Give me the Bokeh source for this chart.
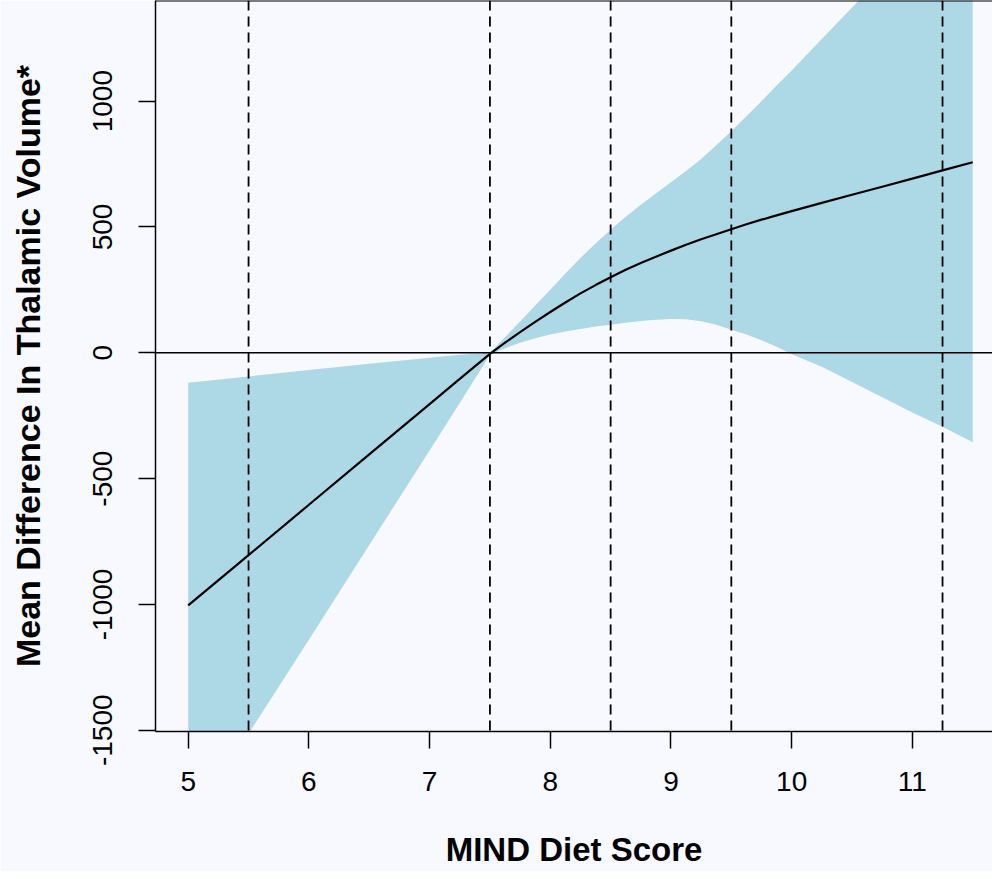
from bokeh.plotting import figure
from bokeh.models import Span, FixedTicker, Range1d
from bokeh.embed import file_html
from bokeh.resources import INLINE

# ---- data ----
mind_score = [5.0, 5.5, 6.0, 6.5, 7.0, 7.25, 7.5, 7.625, 7.75, 7.875, 8.0,
              8.125, 8.25, 8.375, 8.5, 8.625, 8.75, 8.875, 9.0, 9.125, 9.25,
              9.375, 9.5, 9.625, 9.75, 9.875, 10.0, 10.25, 10.5, 10.75, 11.0,
              11.25, 11.5]
mean_diff = [-1004, -804, -604, -404, -204, -104, -4, 40, 82, 123, 162,
             200, 236, 269, 300, 330, 357, 382, 406, 429, 451,
             471, 491, 511, 529, 546, 563, 596, 628, 660, 692,
             725, 757]
ci_lower = [-1889, -1514, -1140, -764, -388, -200, -8, 18, 40, 58, 73,
            85, 95, 104, 111, 119, 126, 131, 134, 133, 125,
            111, 92, 73, 50, 24, -6, -55, -116, -177, -237,
            -294, -356]
ci_upper = [-119, -94, -68, -44, -20, -8, 0, 62, 124, 188, 251,
            315, 377, 434, 489, 541, 588, 633, 678, 722, 770,
            825, 880, 940, 1000, 1062, 1122, 1247, 1372, 1497, 1621,
            1744, 1870]
knots = [5.5, 7.5, 8.5, 9.5, 11.25]
x_ticks = [5, 6, 7, 8, 9, 10, 11]
y_ticks = [-1500, -1000, -500, 0, 500, 1000]
x_title = "MIND Diet Score"
y_title = "Mean Difference In Thalamic Volume*"

X_START, X_END = 4.729, 11.664
Y_START, Y_END = -1505, 1400

BG = "#F8F8FF"
FONT = "Liberation Sans"

p = figure(width=992, height=871, output_backend="svg", toolbar_location=None,
           x_range=Range1d(X_START, X_END), y_range=Range1d(Y_START, Y_END),
           min_border_left=155, min_border_right=0, min_border_top=0,
           min_border_bottom=140)
p.background_fill_color = BG
p.border_fill_color = BG
p.outline_line_color = None
p.grid.visible = False

p.varea(x=mind_score, y1=ci_lower, y2=ci_upper, fill_color="#ADD8E6")
p.line(x=mind_score, y=mean_diff, line_color="black", line_width=2.2)

p.add_layout(Span(location=0, dimension="width", line_color="black", line_width=1.5))
for k in knots:
    p.add_layout(Span(location=k, dimension="height", line_color="black",
                      line_width=1.8, line_dash="10 6"))
p.add_layout(Span(location=Y_END, dimension="width", line_color="black", line_width=2))

for ax in (p.xaxis[0], p.yaxis[0]):
    ax.axis_line_width = 1.5
    ax.axis_line_color = "black"
    ax.major_tick_line_color = "black"
    ax.major_tick_line_width = 1.5
    ax.major_tick_out = 17
    ax.major_tick_in = 0
    ax.minor_tick_line_color = None
    ax.major_label_text_font = FONT
    ax.major_label_text_font_size = "28px"
    ax.major_label_text_color = "black"
    ax.axis_label_text_font = FONT
    ax.axis_label_text_font_size = "33px"
    ax.axis_label_text_font_style = "bold"
    ax.axis_label_text_color = "black"

p.xaxis[0].ticker = FixedTicker(ticks=x_ticks)
p.yaxis[0].ticker = FixedTicker(ticks=y_ticks)
p.yaxis[0].major_label_overrides = {t: str(t) for t in y_ticks}
p.xaxis[0].axis_label = x_title
p.yaxis[0].axis_label = y_title
p.yaxis[0].axis_label_text_font_size = "34px"
p.yaxis[0].major_label_orientation = "parallel"
p.xaxis[0].major_label_standoff = 23
p.xaxis[0].axis_label_standoff = 37
p.yaxis[0].major_label_standoff = 26
p.yaxis[0].axis_label_standoff = 44

open("out.html", "w").write(file_html(p, INLINE))
